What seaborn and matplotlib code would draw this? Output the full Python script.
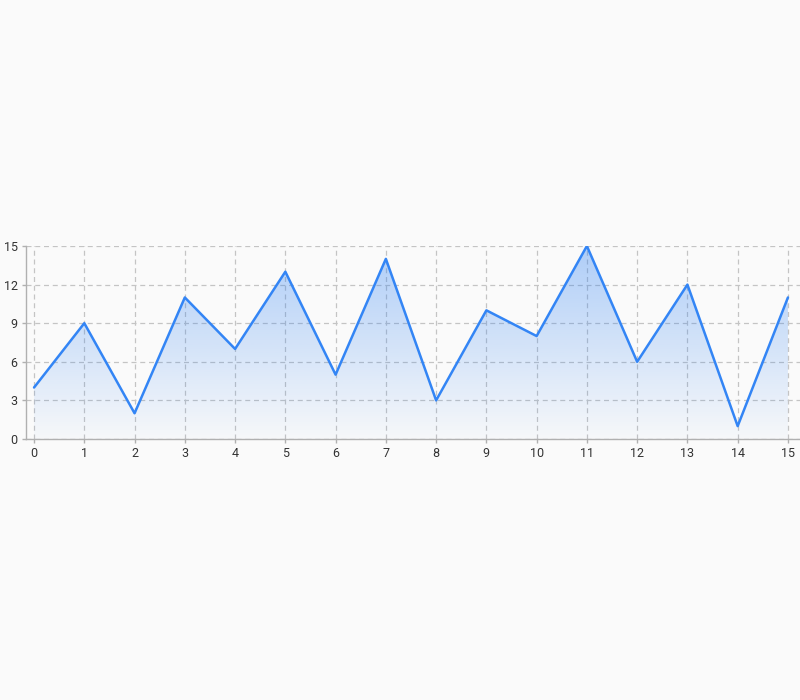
import numpy as np
import pandas as pd
import matplotlib
matplotlib.use("Agg")
import matplotlib.pyplot as plt
import seaborn as sns
from matplotlib.colors import LinearSegmentedColormap

x_values = list(range(16))
y_values = [4, 9, 2, 11, 7, 13, 5, 14, 3, 10, 8, 15, 6, 12, 1, 11]
x_ticks = list(range(16))
y_ticks = [0, 3, 6, 9, 12, 15]

line_color = "#3385f5"
bg = "#fafafa"

sns.set_theme(style="white")
plt.rcParams["font.family"] = ["Roboto", "DejaVu Sans"]

fig = plt.figure(figsize=(8, 7), dpi=100, facecolor=bg)
ax = fig.add_axes([26 / 800, 1 - 439 / 700, 774 / 800, (439 - 246) / 700])
ax.set_facecolor(bg)

df = pd.DataFrame({"x": x_values, "y": y_values})

# gradient fill
poly = ax.fill_between(df["x"], df["y"], 0, color="none", lw=0)
cmap = LinearSegmentedColormap.from_list(
    "g", [(0.2, 0.52, 0.96, 0.02), (0.2, 0.52, 0.96, 0.38)])
grad = np.linspace(0, 1, 256).reshape(-1, 1)
im = ax.imshow(grad, cmap=cmap, aspect="auto", origin="lower",
               extent=[0, 15, 0, 15], zorder=1, interpolation="bicubic")
path = poly.get_paths()[0]
im.set_clip_path(path, transform=ax.transData)

sns.lineplot(data=df, x="x", y="y", ax=ax, color=line_color, lw=1.8, zorder=3)

ax.set_xlim(-0.16, 15.24)
ax.set_ylim(0, 15)
ax.set_xticks(x_ticks)
ax.set_yticks(y_ticks)
ax.set_xlabel("")
ax.set_ylabel("")
ax.grid(True, color="#c4c4c4", linestyle=(0, (4, 3)), lw=0.9)
ax.set_axisbelow(True)
for s in ["top", "right"]:
    ax.spines[s].set_visible(False)
for s in ["left", "bottom"]:
    ax.spines[s].set_color("#b0b0b0")
    ax.spines[s].set_linewidth(1)
ax.tick_params(axis="both", which="both", length=3, width=1, color="#b0b0b0",
               labelsize=9, labelcolor="#333333", direction="out",
               bottom=True, left=True, pad=3)

fig.savefig("out.png", dpi=100, facecolor=bg)
